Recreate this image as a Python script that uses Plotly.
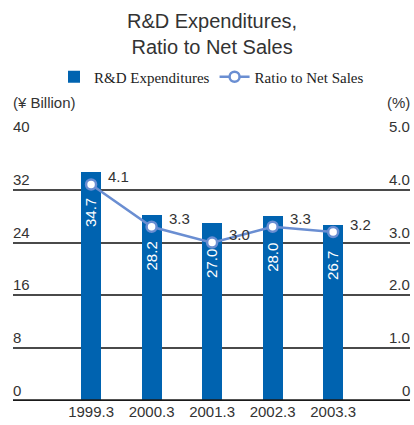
import plotly.graph_objects as go

# Fiscal years and values
years = ["1999.3", "2000.3", "2001.3", "2002.3", "2003.3"]
rd_expenditures = [34.7, 28.2, 27.0, 28.0, 26.7]      # ¥ Billion
ratio_to_sales = [4.1, 3.3, 3.0, 3.3, 3.2]            # %
left_ticks = [0, 8, 16, 24, 32, 40]
right_ticks = [0, 1.0, 2.0, 3.0, 4.0, 5.0]
right_tick_text = ["0", "1.0", "2.0", "3.0", "4.0", "5.0"]

BAR_BLUE = "#0063B0"
LINE_BLUE = "#6A8ED2"
TEXT = "#333333"
SANS = "Liberation Sans, Arial, sans-serif"
SERIF = "Liberation Serif, Times New Roman, serif"

PLOT_TOP, PLOT_BOTTOM = 137, 401          # pixel rows of the plotting area
PLOT_H = PLOT_BOTTOM - PLOT_TOP


def paper_y(px):
    """Convert a pixel row of the page into a paper y coordinate."""
    return (PLOT_BOTTOM - px) / PLOT_H


fig = go.Figure()

fig.add_trace(go.Bar(
    x=years, y=rd_expenditures, name="R&D Expenditures",
    marker=dict(color=BAR_BLUE, line=dict(width=0)), width=0.33,
    yaxis="y",
))

fig.add_trace(go.Scatter(
    x=years, y=ratio_to_sales, name="Ratio to Net Sales",
    mode="lines+markers", yaxis="y2",
    line=dict(color=LINE_BLUE, width=2.5),
    marker=dict(size=10, color="white", line=dict(color=LINE_BLUE, width=2.5)),
))

annotations = []

# Bar values, rotated inside each bar (x given as category index)
for i, v in enumerate(rd_expenditures):
    annotations.append(dict(
        x=i, y=v, xref="x", yref="y", text=f"{v:.1f}", showarrow=False,
        textangle=-90, font=dict(family=SANS, size=15, color="white"),
        xanchor="center", yanchor="middle", yshift=-41,
    ))

# Ratio values next to each marker
for i, v in enumerate(ratio_to_sales):
    annotations.append(dict(
        x=i, y=v, xref="x", yref="y2", text=f"{v:.1f}", showarrow=False,
        font=dict(family=SANS, size=15, color=TEXT),
        xanchor="left", yanchor="middle", xshift=15, yshift=8,
    ))

# Axis tick labels sitting on top of the grid lines
for t in left_ticks:
    annotations.append(dict(
        x=0, y=t, xref="paper", yref="y", text=str(t), showarrow=False,
        font=dict(family=SANS, size=15, color=TEXT),
        xanchor="left", yanchor="bottom", xshift=-2,
    ))
for t, lbl in zip(right_ticks, right_tick_text):
    annotations.append(dict(
        x=1, y=t, xref="paper", yref="y2", text=lbl, showarrow=False,
        font=dict(family=SANS, size=15, color=TEXT),
        xanchor="right", yanchor="bottom", xshift=2,
    ))

# Unit labels
annotations.append(dict(
    x=0, y=paper_y(103), xref="paper", yref="paper", text="(¥ Billion)",
    showarrow=False, font=dict(family=SANS, size=15, color=TEXT),
    xanchor="left", yanchor="middle", xshift=-2,
))
annotations.append(dict(
    x=1, y=paper_y(103), xref="paper", yref="paper", text="(%)",
    showarrow=False, font=dict(family=SANS, size=15, color=TEXT),
    xanchor="right", yanchor="middle", xshift=2,
))

# Two-line title
annotations.append(dict(
    x=0.5, y=paper_y(8), xref="paper", yref="paper",
    text="R&D Expenditures,<br>Ratio to Net Sales", showarrow=False,
    font=dict(family=SANS, size=20, color=TEXT),
    xanchor="center", yanchor="top", align="center",
))

fig.update_layout(
    width=414, height=425,
    margin=dict(l=13, r=4, t=PLOT_TOP, b=425 - PLOT_BOTTOM),
    paper_bgcolor="white", plot_bgcolor="white",
    showlegend=True,
    legend=dict(
        orientation="h", x=0.5, xanchor="center",
        y=paper_y(77), yanchor="middle",
        font=dict(family=SERIF, size=15, color="#222222"),
        itemwidth=30, bgcolor="rgba(0,0,0,0)",
    ),
    xaxis=dict(
        type="category", range=[-1.29, 5.27],
        showgrid=False, zeroline=False, showline=False, ticks="",
        tickfont=dict(family=SANS, size=15, color=TEXT),
    ),
    yaxis=dict(
        range=[0, 40], tickvals=left_ticks, showticklabels=False,
        showgrid=True, gridcolor="#4a4a4a", gridwidth=1.5,
        zeroline=False, showline=False, ticks="",
    ),
    yaxis2=dict(
        range=[0, 5], overlaying="y", side="right",
        showgrid=False, showticklabels=False, zeroline=False, showline=False,
    ),
    annotations=annotations,
    shapes=[dict(
        type="line", xref="paper", yref="y", x0=0, x1=1, y0=0, y1=0,
        line=dict(color="#1a1a1a", width=3.5), layer="above",
    )],
    bargap=0,
)

fig.write_html("out.html")
